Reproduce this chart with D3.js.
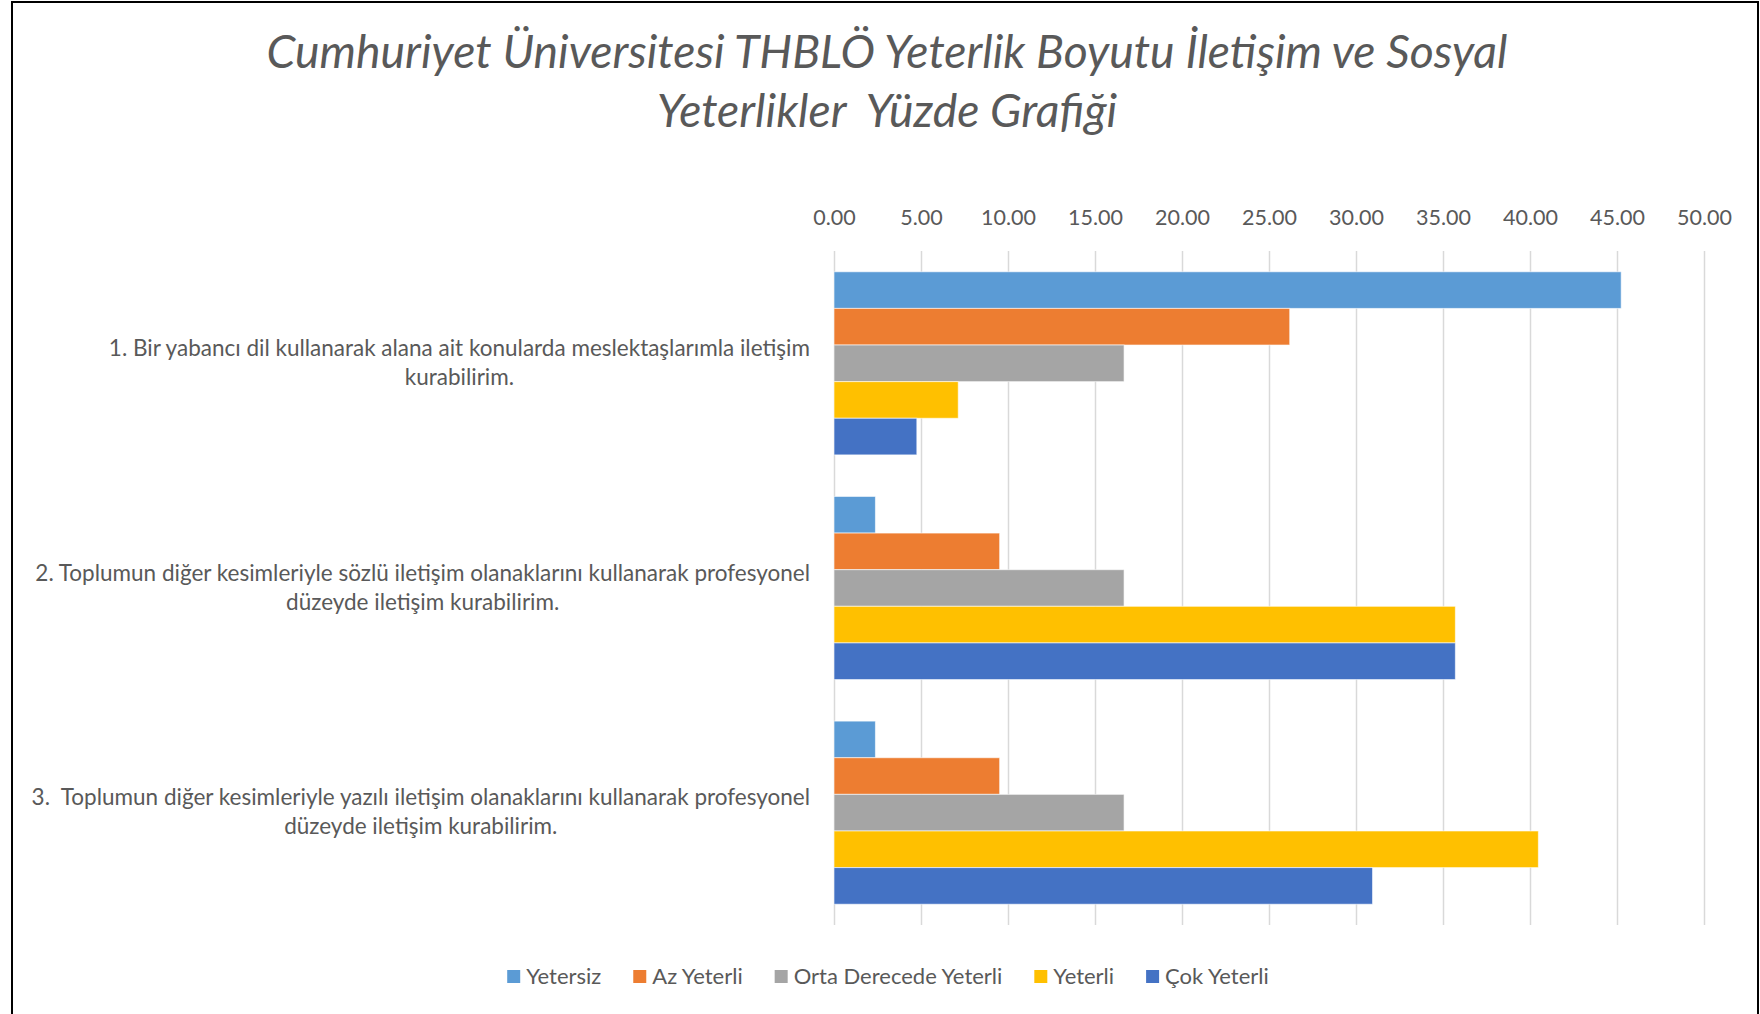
<!DOCTYPE html>
<html>
<head>
<meta charset="utf-8">
<script src="https://cdn.jsdelivr.net/npm/d3@7"></script>
<style>
  body { margin: 0; background: #fff; }
  svg { display: block; }
</style>
</head>
<body>
<div id="chart"></div>
<script>
// Chart data (percent)
var categories = [
  ["1. Bir yabancı dil kullanarak alana ait konularda meslektaşlarımla iletişim", "kurabilirim."],
  ["2. Toplumun diğer kesimleriyle sözlü iletişim olanaklarını kullanarak profesyonel", "düzeyde iletişim kurabilirim."],
  ["3.  Toplumun diğer kesimleriyle yazılı iletişim olanaklarını kullanarak profesyonel", "düzeyde iletişim kurabilirim."]
];
var seriesNames = ["Yetersiz", "Az Yeterli", "Orta Derecede Yeterli", "Yeterli", "Çok Yeterli"];
var seriesColors = ["#5B9BD5", "#ED7D31", "#A5A5A5", "#FFC000", "#4472C4"];
var yetersiz = [45.24, 2.38, 2.38];
var azYeterli = [26.19, 9.52, 9.52];
var ortaYeterli = [16.67, 16.67, 16.67];
var yeterli = [7.14, 35.71, 40.48];
var cokYeterli = [4.76, 35.71, 30.95];
var tickValues = [0, 5, 10, 15, 20, 25, 30, 35, 40, 45, 50];
var titleLines = ["Cumhuriyet Üniversitesi THBLÖ Yeterlik Boyutu İletişim ve Sosyal", "Yeterlikler  Yüzde Grafiği"];

var seriesValues = [yetersiz, azYeterli, ortaYeterli, yeterli, cokYeterli];

var svgWidth = 1760;
var svgHeight = 1014;

var margin = { top: 251, right: 56, bottom: 89, left: 834 };
var chartWidth = svgWidth - margin.left - margin.right;
var chartHeight = svgHeight - margin.top - margin.bottom;

var svg = d3.select("#chart")
  .append("svg")
  .attr("width", svgWidth)
  .attr("height", svgHeight);

// outer frame
svg.append("path")
  .attr("d", "M12,1014 V2 H1758 V1014")
  .attr("fill", "none")
  .attr("stroke", "#000")
  .attr("stroke-width", 2);

// title
svg.append("g").selectAll("text")
  .data(titleLines)
  .enter().append("text")
  .attr("x", 887)
  .attr("y", (d, i) => 68 + i * 59)
  .attr("text-anchor", "middle")
  .style("white-space", "pre")
  .style("font-family", "Lato, 'Open Sans', sans-serif")
  .style("font-style", "italic")
  .style("font-weight", 400)
  .style("font-size", "46.3px")
  .style("fill", "#595959")
  .text(d => d);

var chartGroup = svg.append("g")
  .attr("transform", `translate(${margin.left}, ${margin.top})`);

var xScale = d3.scaleLinear()
  .domain([0, 50])
  .range([0, chartWidth]);

var yScale = d3.scaleBand()
  .domain(d3.range(categories.length))
  .range([0, chartHeight])
  .paddingInner(0.185)
  .paddingOuter(0.0925);

var ySub = d3.scaleBand()
  .domain(d3.range(seriesNames.length))
  .range([0, yScale.bandwidth()]);

// gridlines
chartGroup.append("g")
  .selectAll("line")
  .data(tickValues)
  .enter().append("line")
  .attr("x1", d => xScale(d) + 0.5)
  .attr("x2", d => xScale(d) + 0.5)
  .attr("y1", 0)
  .attr("y2", chartHeight)
  .attr("stroke", "#D9D9D9")
  .attr("stroke-width", 1.5);

// top axis labels
var topAxis = d3.axisTop(xScale)
  .tickValues(tickValues)
  .tickFormat(d3.format(".2f"))
  .tickSize(0)
  .tickPadding(0);

var axisG = chartGroup.append("g")
  .attr("transform", "translate(0, -26)")
  .call(topAxis);
axisG.select(".domain").remove();
axisG.selectAll("text")
  .style("font-family", "Lato, 'Open Sans', sans-serif")
  .style("font-size", "21.5px")
  .style("fill", "#595959");

// bars
var groups = chartGroup.selectAll(".cat")
  .data(categories)
  .enter().append("g")
  .attr("class", "cat")
  .attr("transform", (d, i) => `translate(0, ${yScale(i)})`);

groups.selectAll("rect")
  .data((d, ci) => seriesValues.map((vals, si) => ({ s: si, v: vals[ci] })))
  .enter().append("rect")
  .attr("x", xScale(0))
  .attr("y", d => ySub(d.s))
  .attr("width", d => xScale(d.v) - xScale(0))
  .attr("height", ySub.bandwidth())
  .attr("fill", d => seriesColors[d.s])
  .attr("stroke", "#fff")
  .attr("stroke-opacity", 0.6)
  .attr("stroke-width", 1);

// category labels (block right-aligned, lines centred)
var labelG = svg.append("g");
categories.forEach(function(lines, i) {
  var cy = margin.top + yScale(i) + yScale.bandwidth() / 2;
  var t = labelG.append("g");
  var texts = t.selectAll("text")
    .data(lines)
    .enter().append("text")
    .attr("y", (d, j) => cy + (j - (lines.length - 1) / 2) * 29 + 7)
    .attr("text-anchor", "middle")
    .style("white-space", "pre")
    .style("font-family", "Lato, 'Open Sans', sans-serif")
    .style("font-size", "22.5px")
    .style("fill", "#595959")
    .text(d => d);
  var maxW = 0;
  texts.each(function() { maxW = Math.max(maxW, this.getComputedTextLength()); });
  texts.attr("x", 810 - maxW / 2);
});

// legend
var legend = svg.append("g");
var lx = 0;
var items = legend.selectAll("g")
  .data(seriesNames)
  .enter().append("g");
items.append("rect")
  .attr("width", 13)
  .attr("height", 13)
  .attr("y", 970)
  .attr("fill", (d, i) => seriesColors[i]);
items.append("text")
  .attr("x", 19)
  .attr("y", 984)
  .style("font-family", "Lato, 'Open Sans', sans-serif")
  .style("font-size", "22px")
  .style("fill", "#595959")
  .text(d => d);
items.each(function() {
  d3.select(this).attr("transform", `translate(${lx}, 0)`);
  lx += this.getBBox().width + 32;
});
var legendW = lx - 32;
legend.attr("transform", `translate(${(svgWidth - legendW) / 2 + 8}, 0)`);
</script>
</body>
</html>
